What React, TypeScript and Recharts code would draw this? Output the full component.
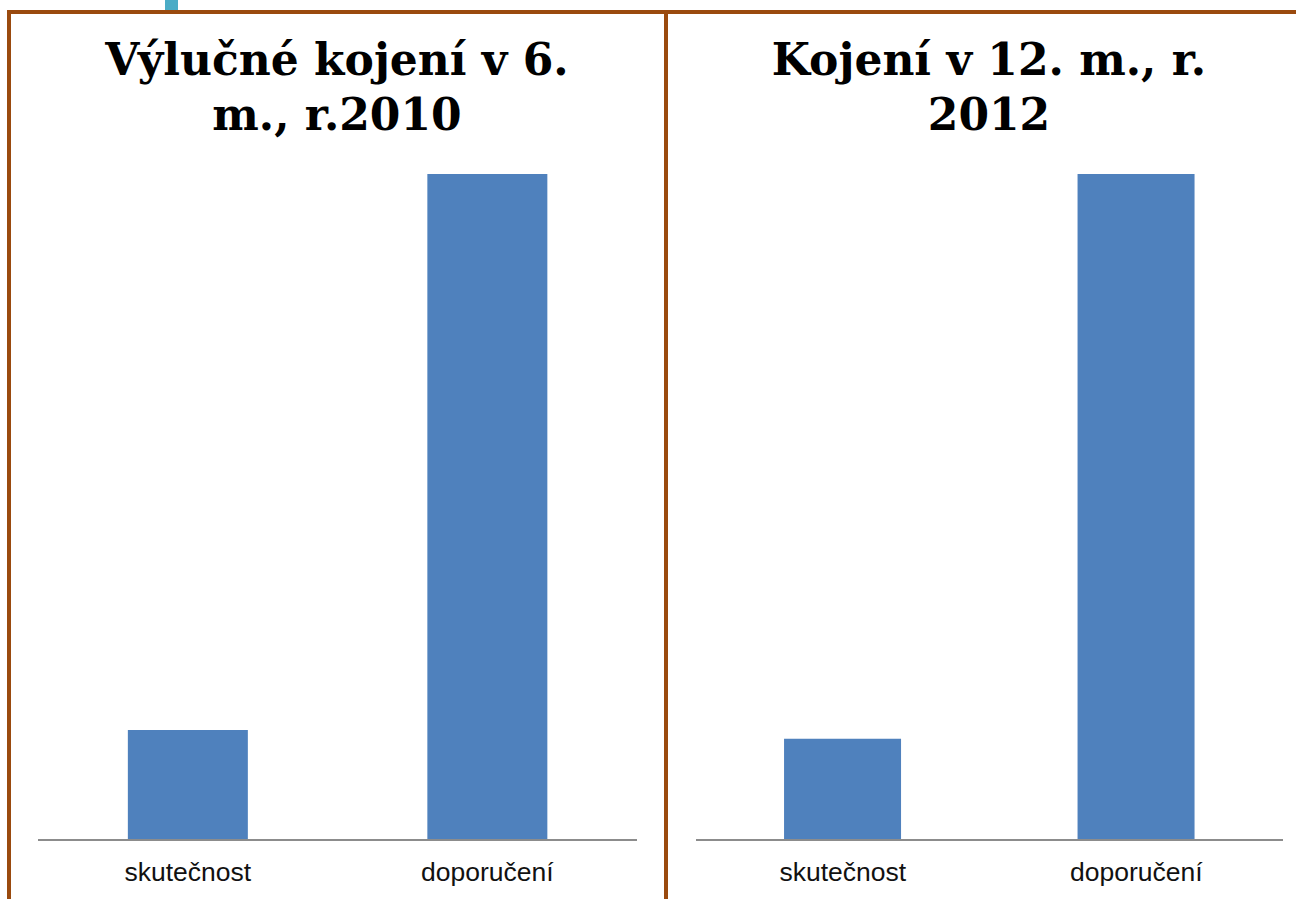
import React from "react";
import { BarChart, Bar, XAxis, YAxis } from "recharts";

const categories = ["skutečnost", "doporučení"];
const exclusive6m2010 = [16.5, 100];
const breast12m2012 = [15.2, 100];

const leftData = categories.map((c, i) => ({ name: c, value: exclusive6m2010[i] }));
const rightData = categories.map((c, i) => ({ name: c, value: breast12m2012[i] }));

const BROWN = "#9a4a0e";
const BLUE = "#4f81bd";

const titleStyle: React.CSSProperties = {
  position: "absolute",
  top: 32,
  fontFamily: "'DejaVu Serif', serif",
  fontWeight: 700,
  fontSize: 44,
  lineHeight: "55px",
  textAlign: "center",
  color: "#000",
};

function Panel({
  data,
  left,
  width,
  marginLeft,
  marginRight,
}: {
  data: { name: string; value: number }[];
  left: number;
  width: number;
  marginLeft: number;
  marginRight: number;
}) {
  return (
    <div style={{ position: "absolute", left, top: 0 }}>
      <BarChart
        width={width}
        height={899}
        data={data}
        barCategoryGap="30%"
        margin={{ top: 174, right: marginRight, bottom: 0, left: marginLeft }}
      >
        <XAxis
          dataKey="name"
          height={59}
          axisLine={{ stroke: "#8c8c8c", strokeWidth: 2 }}
          tickLine={false}
          tickMargin={16}
          tick={{ fontSize: 26.5, fill: "#111", fontFamily: "'Liberation Sans', Arial, sans-serif" }}
        />
        <YAxis hide domain={[0, 100]} />
        <Bar dataKey="value" fill={BLUE} isAnimationActive={false} />
      </BarChart>
    </div>
  );
}

export default function App() {
  return (
    <div style={{ position: "absolute", left: 0, top: 0, width: 1296, height: 899, background: "#fff", overflow: "hidden" }}>
      <Panel data={leftData} left={0} width={664} marginLeft={38} marginRight={27} />
      <Panel data={rightData} left={664} width={632} marginLeft={32} marginRight={13} />

      <div style={{ ...titleStyle, left: 10, width: 654 }}>
        Výlučné kojení v 6.
        <br />
        m., r.2010
      </div>
      <div style={{ ...titleStyle, left: 675, width: 628 }}>
        Kojení v 12. m., r.
        <br />
        2012
      </div>

      <div style={{ position: "absolute", left: 165, top: 0, width: 13, height: 11, background: "#4bacc6" }} />
      <div style={{ position: "absolute", left: 7, top: 10, width: 1289, height: 4, background: BROWN }} />
      <div style={{ position: "absolute", left: 7, top: 10, width: 4, height: 889, background: BROWN }} />
      <div style={{ position: "absolute", left: 664, top: 10, width: 4, height: 889, background: BROWN }} />
    </div>
  );
}
